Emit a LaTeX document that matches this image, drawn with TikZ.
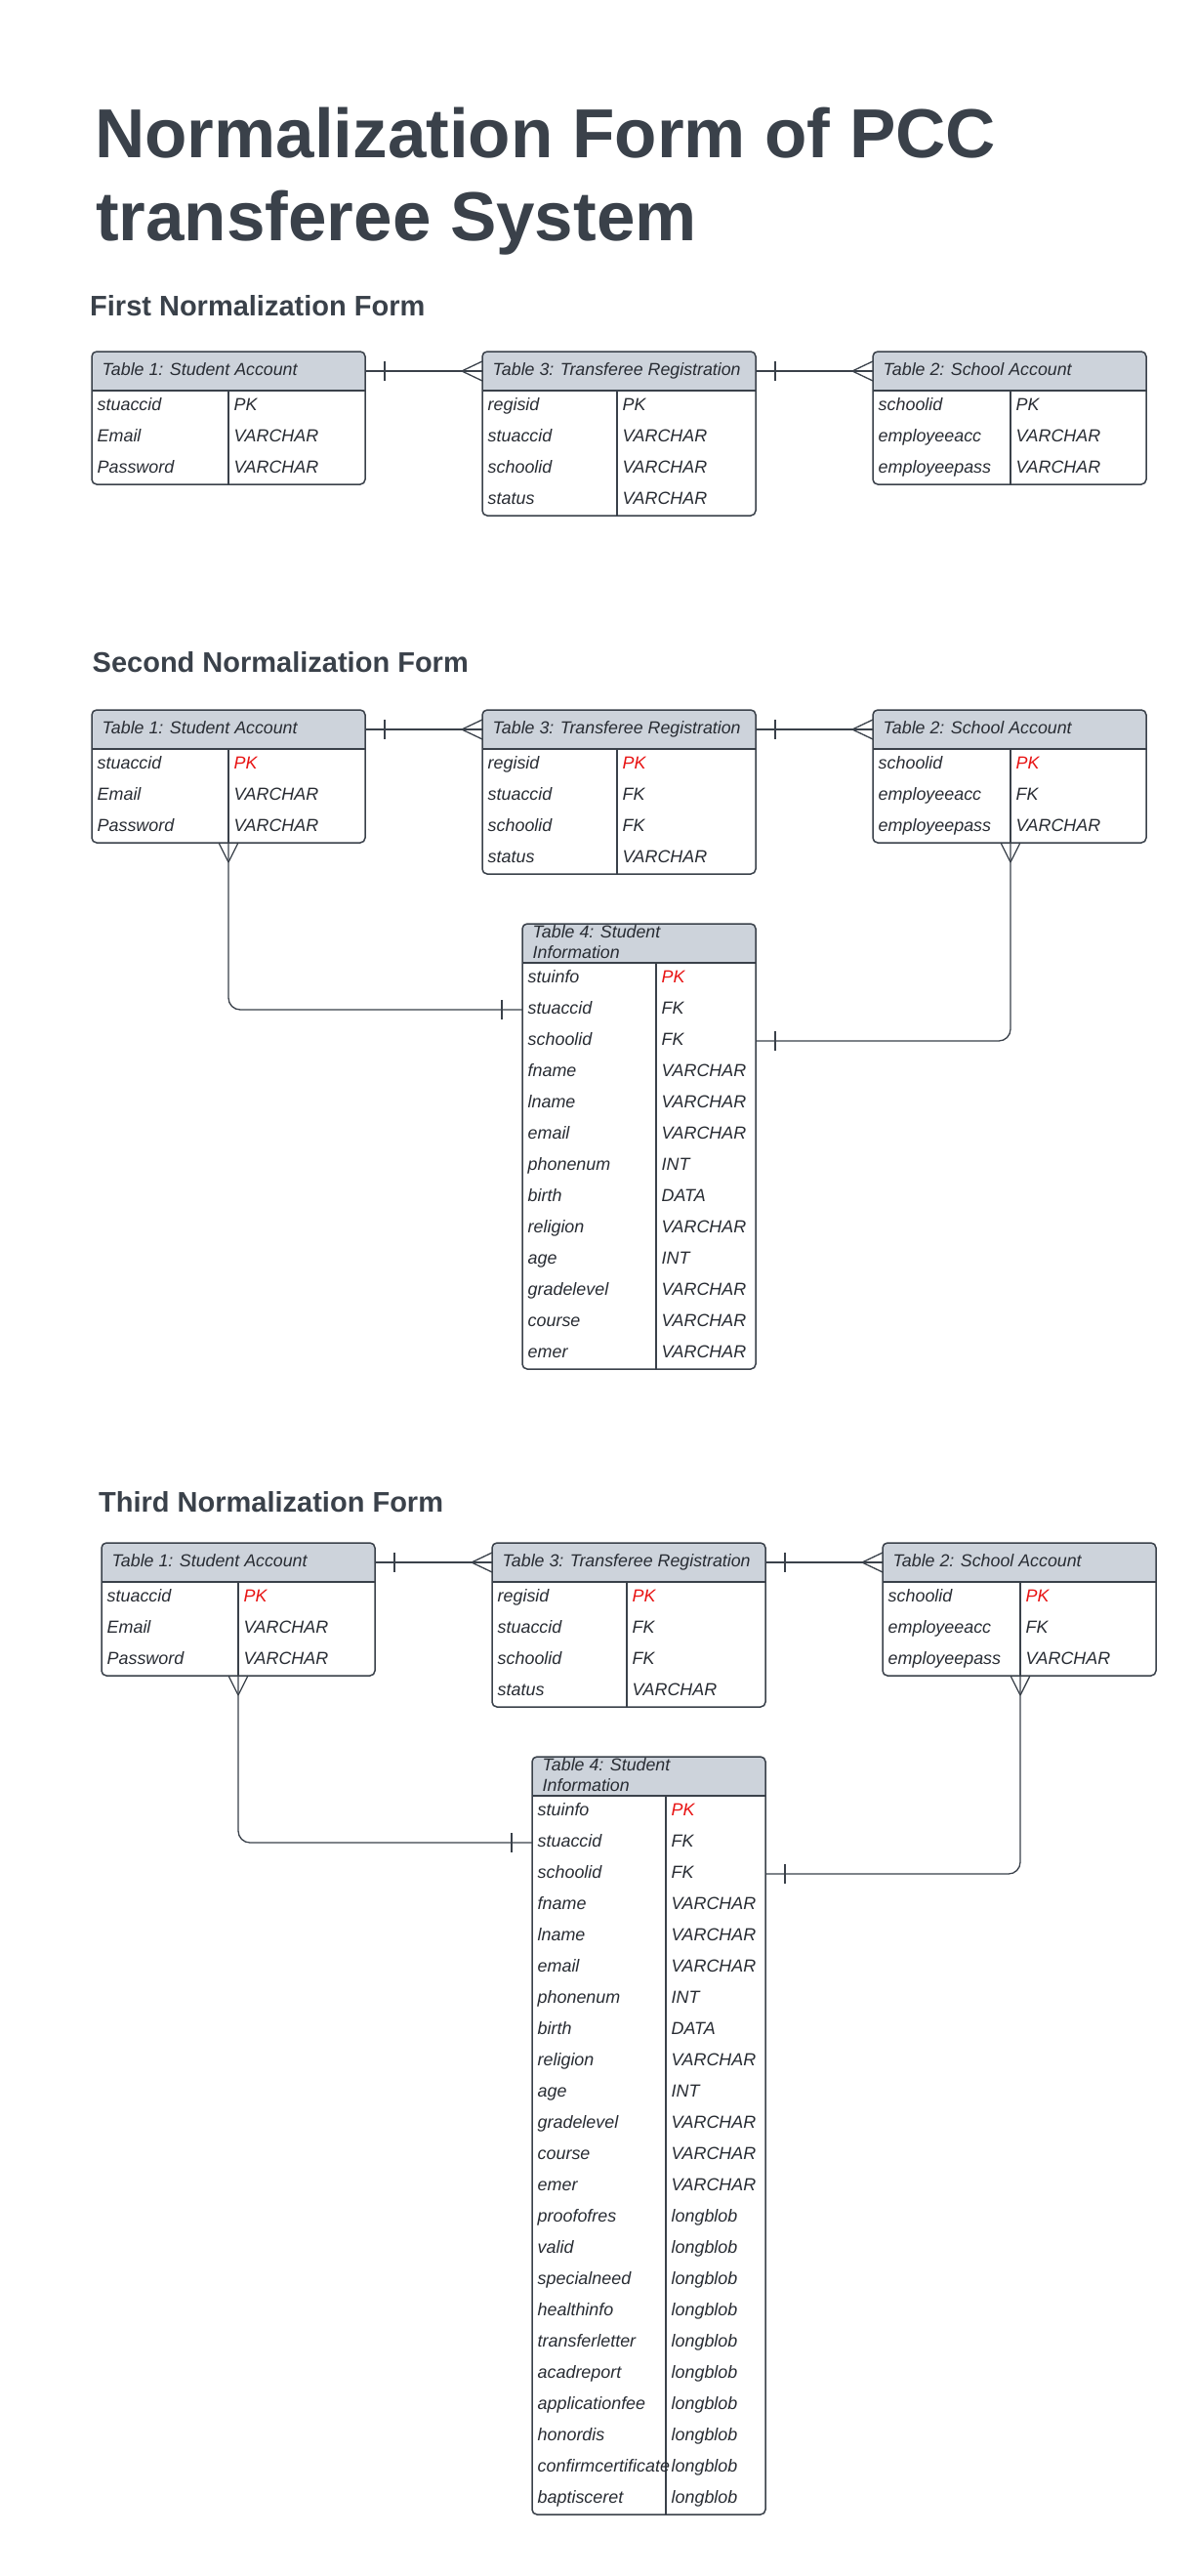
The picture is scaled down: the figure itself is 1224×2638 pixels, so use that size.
\documentclass[tikz,border=0pt]{standalone}
\usepackage{fontspec}
\setmainfont{Liberation Sans}
\usetikzlibrary{calc}
\definecolor{bord}{HTML}{3A414A}
\definecolor{hdrfill}{HTML}{CDD3DB}
\definecolor{txtc}{HTML}{282C33}
\definecolor{titlec}{HTML}{3A414A}
\definecolor{pkred}{HTML}{E81313}
\tikzset{
  tbox/.style={draw=bord, line width=1.5pt, rounded corners=5pt, inner sep=0pt, outer sep=0pt},
  tline/.style={draw=bord, line width=1.5pt},
  cline/.style={draw=bord, line width=1.3pt},
  htext/.style={anchor=base west, inner sep=0pt, text=txtc, font=\fontsize{17.8}{21}\selectfont\itshape},
  rtext/.style={anchor=base west, inner sep=0pt, text=txtc, font=\fontsize{17.9}{21}\selectfont\itshape},
  titletext/.style={anchor=base west, inner sep=0pt, text=titlec, font=\fontsize{71}{85}\selectfont\bfseries},
  secttext/.style={anchor=base west, inner sep=0pt, text=titlec, font=\fontsize{29}{34}\selectfont\bfseries}
}
% #1 name, #2 x, #3 y(top), #4 width, #5 divider, #6 rows, #7 header, #8 header baseline offset, #9 rows list
\newcommand\ertable[9]{%
  \pgfmathsetmacro\tH{40+32*#6}%
  \fill[hdrfill, rounded corners=5pt] ({#2},{#3+40}) -- ({#2},{#3}) -- ({#2+#4},{#3}) -- ({#2+#4},{#3+40});
  \node[tbox, minimum width=#4, minimum height=\tH] (#1) at ({#2+#4/2},{#3+\tH/2}) {};
  \draw[tline] ({#2},{#3+40}) -- ({#2+#4},{#3+40});
  \draw[tline] ({#2+#5},{#3+40}) -- ({#2+#5},{#3+\tH});
  \node[htext] (#1-h) at ({#2+10.5},{#3+#8}) {#7};
  \coordinate (#1-hl) at ({#2},{#3+20});
  \coordinate (#1-hr) at ({#2+#4},{#3+20});
  \coordinate (#1-bd) at ({#2+#5},{#3+\tH});
  \foreach \a/\b/\c [count=\i] in {#9} {
    \node[rtext] (#1-a\i) at ({#2+5.5},{#3+40+32*\i-16+4.5}) {\a};
    \node[rtext, text=\c] (#1-b\i) at ({#2+#5+5.5},{#3+40+32*\i-16+4.5}) {\b};
    \coordinate (#1-l\i) at ({#2},{#3+40+32*\i-16});
    \coordinate (#1-r\i) at ({#2+#4},{#3+40+32*\i-16});
  }%
}
% one-bar across a horizontal line
\newcommand\barH[2]{\draw[cline] ($(#1)+(#2,-10)$) -- ($(#1)+(#2,10)$);}
% crow's foot on horizontal line, apex offset #2
\newcommand\crowH[2]{\draw[cline] ($(#1)+(#2,0)$) -- ($(#1)+(0,-10)$) ($(#1)+(#2,0)$) -- ($(#1)+(0,10)$);}
% crow's foot on vertical line going down
\newcommand\crowV[1]{\draw[cline] ($(#1)+(0,20)$) -- ($(#1)+(-10,0)$) ($(#1)+(0,20)$) -- ($(#1)+(10,0)$);}
\newcommand\tfourheader{\vtop{\baselineskip=21.5pt\hbox{Table 4: Student}\hbox{Information}}}
\begin{document}
\begin{tikzpicture}[x=1pt,y=-1pt]
\fill[white] (0,0) rectangle (1224,2638);
\useasboundingbox (0,0) rectangle (1224,2638);

\node[titletext] (title1) at (97,162) {Normalization Form of PCC};
\node[titletext] (title2) at (98,247) {transferee System};

% ---------- First Normalization Form ----------
\node[secttext] (sec1) at (92,323) {First Normalization Form};
\ertable{s1t1}{94}{360}{280}{140}{3}{Table 1: Student Account}{24.5}{stuaccid/PK/txtc, Email/VARCHAR/txtc, Password/VARCHAR/txtc}
\ertable{s1t3}{494}{360}{280}{138}{4}{Table 3: Transferee Registration}{24.5}{regisid/PK/txtc, stuaccid/VARCHAR/txtc, schoolid/VARCHAR/txtc, status/VARCHAR/txtc}
\ertable{s1t2}{894}{360}{280}{141}{3}{Table 2: School Account}{24.5}{schoolid/PK/txtc, employeeacc/VARCHAR/txtc, employeepass/VARCHAR/txtc}
\draw[cline] (s1t1-hr) -- (s1t3-hl);
\barH{s1t1-hr}{20}
\crowH{s1t3-hl}{-21}
\draw[cline] (s1t3-hr) -- (s1t2-hl);
\barH{s1t3-hr}{20}
\crowH{s1t2-hl}{-21}

% ---------- Second Normalization Form ----------
\node[secttext] (sec2) at (94.5,688) {Second Normalization Form};
\ertable{s2t1}{94}{727}{280}{140}{3}{Table 1: Student Account}{24.5}{stuaccid/PK/pkred, Email/VARCHAR/txtc, Password/VARCHAR/txtc}
\ertable{s2t3}{494}{727}{280}{138}{4}{Table 3: Transferee Registration}{24.5}{regisid/PK/pkred, stuaccid/FK/txtc, schoolid/FK/txtc, status/VARCHAR/txtc}
\ertable{s2t2}{894}{727}{280}{141}{3}{Table 2: School Account}{24.5}{schoolid/PK/pkred, employeeacc/FK/txtc, employeepass/VARCHAR/txtc}
\ertable{s2t4}{535}{946}{239}{137}{13}{\tfourheader}{14}{stuinfo/PK/pkred, stuaccid/FK/txtc, schoolid/FK/txtc, fname/VARCHAR/txtc, lname/VARCHAR/txtc, email/VARCHAR/txtc, phonenum/INT/txtc, birth/DATA/txtc, religion/VARCHAR/txtc, age/INT/txtc, gradelevel/VARCHAR/txtc, course/VARCHAR/txtc, emer/VARCHAR/txtc}
\draw[cline] (s2t1-hr) -- (s2t3-hl);
\barH{s2t1-hr}{20}
\crowH{s2t3-hl}{-21}
\draw[cline] (s2t3-hr) -- (s2t2-hl);
\barH{s2t3-hr}{20}
\crowH{s2t2-hl}{-21}
\draw[cline, rounded corners=12pt] (s2t1-bd) |- (s2t4-l2);
\crowV{s2t1-bd}
\barH{s2t4-l2}{-21}
\draw[cline, rounded corners=12pt] (s2t4-r3) -| (s2t2-bd);
\crowV{s2t2-bd}
\barH{s2t4-r3}{20}

% ---------- Third Normalization Form ----------
\node[secttext] (sec3) at (101,1548) {Third Normalization Form};
\ertable{s3t1}{104}{1580}{280}{140}{3}{Table 1: Student Account}{24.5}{stuaccid/PK/pkred, Email/VARCHAR/txtc, Password/VARCHAR/txtc}
\ertable{s3t3}{504}{1580}{280}{138}{4}{Table 3: Transferee Registration}{24.5}{regisid/PK/pkred, stuaccid/FK/txtc, schoolid/FK/txtc, status/VARCHAR/txtc}
\ertable{s3t2}{904}{1580}{280}{141}{3}{Table 2: School Account}{24.5}{schoolid/PK/pkred, employeeacc/FK/txtc, employeepass/VARCHAR/txtc}
\ertable{s3t4}{545}{1799}{239}{137}{23}{\tfourheader}{14}{stuinfo/PK/pkred, stuaccid/FK/txtc, schoolid/FK/txtc, fname/VARCHAR/txtc, lname/VARCHAR/txtc, email/VARCHAR/txtc, phonenum/INT/txtc, birth/DATA/txtc, religion/VARCHAR/txtc, age/INT/txtc, gradelevel/VARCHAR/txtc, course/VARCHAR/txtc, emer/VARCHAR/txtc, proofofres/longblob/txtc, valid/longblob/txtc, specialneed/longblob/txtc, healthinfo/longblob/txtc, transferletter/longblob/txtc, acadreport/longblob/txtc, applicationfee/longblob/txtc, honordis/longblob/txtc, confirmcertificate/longblob/txtc, baptisceret/longblob/txtc}
\draw[cline] (s3t1-hr) -- (s3t3-hl);
\barH{s3t1-hr}{20}
\crowH{s3t3-hl}{-21}
\draw[cline] (s3t3-hr) -- (s3t2-hl);
\barH{s3t3-hr}{20}
\crowH{s3t2-hl}{-21}
\draw[cline, rounded corners=12pt] (s3t1-bd) |- (s3t4-l2);
\crowV{s3t1-bd}
\barH{s3t4-l2}{-21}
\draw[cline, rounded corners=12pt] (s3t4-r3) -| (s3t2-bd);
\crowV{s3t2-bd}
\barH{s3t4-r3}{20}
\end{tikzpicture}
\end{document}
